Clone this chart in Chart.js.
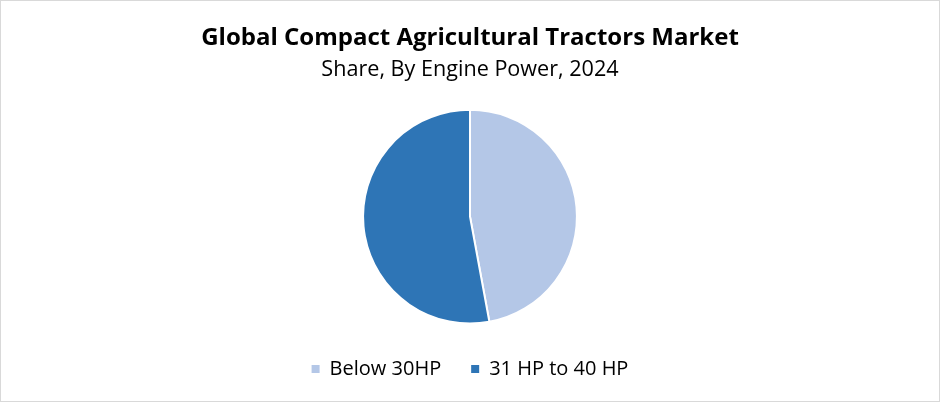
<!DOCTYPE html>
<html>
<head>
<meta charset="utf-8">
<script src="https://cdn.jsdelivr.net/npm/chart.js@4"></script>
<style>
  html, body { margin: 0; padding: 0; background: #fff; }
  .wrap {
    width: 938px; height: 400px;
    border: 1px solid #d9d9d9;
    position: relative;
  }
</style>
</head>
<body>
<div class="wrap"><canvas id="pieChart"></canvas></div>
<script>
// ── Data ──────────────────────────────────────────────────────
const categories = ['Below 30HP', '31 HP to 40 HP'];
const shares     = [47.1, 52.9];
const colors     = ['#B4C7E7', '#2E75B6'];

const FONT = "'Open Sans', 'Noto Sans', sans-serif";

// ── Chart ─────────────────────────────────────────────────────
new Chart(document.getElementById('pieChart'), {
    type: 'pie',
    data: {
        labels: categories,
        datasets: [{
            data: shares,
            backgroundColor: colors,
            borderColor: '#ffffff',
            borderWidth: 2
        }]
    },
    options: {
        responsive: true,
        maintainAspectRatio: false,
        animation: false,
        layout: { padding: { top: 0, bottom: 12 } },
        plugins: {
            title: {
                display: true,
                text: 'Global Compact Agricultural Tractors Market',
                color: '#000',
                font: { family: FONT, size: 24, weight: 'bold' },
                padding: { top: 23, bottom: 4 }
            },
            subtitle: {
                display: true,
                text: 'Share, By Engine Power, 2024',
                color: '#000',
                font: { family: FONT, size: 21.6 },
                padding: { top: 0, bottom: 26 }
            },
            legend: {
                position: 'bottom',
                // thin empty title: adds a few px above the items so the pie shrinks
                title: {
                    display: true,
                    text: ' ',
                    font: { family: FONT, size: 2 },
                    padding: 1
                },
                labels: {
                    color: '#000',
                    font: { family: FONT, size: 20 },
                    usePointStyle: true,
                    pointStyle: 'rect',
                    boxWidth: 8,
                    boxHeight: 10,
                    padding: 30
                }
            },
            tooltip: { enabled: false }
        }
    }
});
</script>
</body>
</html>
